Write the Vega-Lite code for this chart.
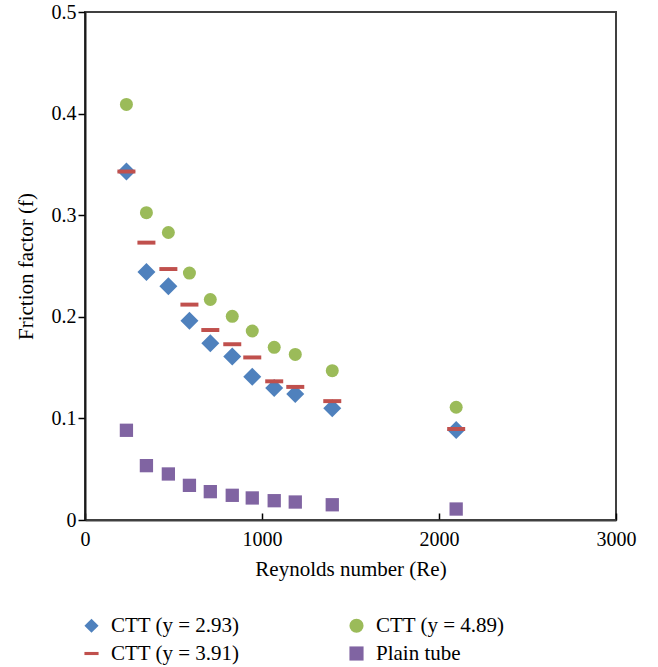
{
  "$schema": "https://vega.github.io/schema/vega-lite/v6.json",
  "width": 531,
  "height": 508,
  "autosize": {"type": "none"},
  "padding": {"left": 85, "top": 12, "right": 42, "bottom": 147},
  "background": "white",
  "config": {
    "font": "Liberation Serif",
    "view": {"stroke": "#404040", "strokeWidth": 2},
    "axis": {
      "grid": false,
      "labelFont": "Liberation Serif",
      "titleFont": "Liberation Serif",
      "labelFontSize": 20,
      "titleFontSize": 21,
      "titleFontWeight": "normal",
      "labelColor": "black",
      "titleColor": "black",
      "domainColor": "#404040",
      "domainWidth": 2,
      "tickColor": "black",
      "tickWidth": 1.5
    },
    "legend": {
      "labelFont": "Liberation Serif",
      "labelFontSize": 21,
      "labelColor": "black",
      "symbolSize": 200,
      "symbolStrokeWidth": 0
    }
  },
  "data": {
    "values": [
      {"series": "CTT (y = 2.93)", "Re": 234, "f": 0.343},
      {"series": "CTT (y = 2.93)", "Re": 347, "f": 0.244},
      {"series": "CTT (y = 2.93)", "Re": 471, "f": 0.230},
      {"series": "CTT (y = 2.93)", "Re": 590, "f": 0.196},
      {"series": "CTT (y = 2.93)", "Re": 708, "f": 0.174},
      {"series": "CTT (y = 2.93)", "Re": 832, "f": 0.161},
      {"series": "CTT (y = 2.93)", "Re": 945, "f": 0.141},
      {"series": "CTT (y = 2.93)", "Re": 1069, "f": 0.130},
      {"series": "CTT (y = 2.93)", "Re": 1188, "f": 0.124},
      {"series": "CTT (y = 2.93)", "Re": 1397, "f": 0.110},
      {"series": "CTT (y = 2.93)", "Re": 2097, "f": 0.0886},
      {"series": "CTT (y = 3.91)", "Re": 234, "f": 0.343},
      {"series": "CTT (y = 3.91)", "Re": 347, "f": 0.273},
      {"series": "CTT (y = 3.91)", "Re": 471, "f": 0.247},
      {"series": "CTT (y = 3.91)", "Re": 590, "f": 0.212},
      {"series": "CTT (y = 3.91)", "Re": 708, "f": 0.187},
      {"series": "CTT (y = 3.91)", "Re": 832, "f": 0.173},
      {"series": "CTT (y = 3.91)", "Re": 945, "f": 0.160},
      {"series": "CTT (y = 3.91)", "Re": 1069, "f": 0.1365},
      {"series": "CTT (y = 3.91)", "Re": 1188, "f": 0.131},
      {"series": "CTT (y = 3.91)", "Re": 1397, "f": 0.117},
      {"series": "CTT (y = 3.91)", "Re": 2097, "f": 0.0896},
      {"series": "CTT (y = 4.89)", "Re": 234, "f": 0.409},
      {"series": "CTT (y = 4.89)", "Re": 347, "f": 0.3025},
      {"series": "CTT (y = 4.89)", "Re": 471, "f": 0.283},
      {"series": "CTT (y = 4.89)", "Re": 590, "f": 0.243},
      {"series": "CTT (y = 4.89)", "Re": 708, "f": 0.217},
      {"series": "CTT (y = 4.89)", "Re": 832, "f": 0.2005},
      {"series": "CTT (y = 4.89)", "Re": 945, "f": 0.186},
      {"series": "CTT (y = 4.89)", "Re": 1069, "f": 0.170},
      {"series": "CTT (y = 4.89)", "Re": 1188, "f": 0.163},
      {"series": "CTT (y = 4.89)", "Re": 1397, "f": 0.147},
      {"series": "CTT (y = 4.89)", "Re": 2097, "f": 0.111},
      {"series": "Plain tube", "Re": 234, "f": 0.0883},
      {"series": "Plain tube", "Re": 347, "f": 0.0535},
      {"series": "Plain tube", "Re": 471, "f": 0.0453},
      {"series": "Plain tube", "Re": 590, "f": 0.0341},
      {"series": "Plain tube", "Re": 708, "f": 0.0279},
      {"series": "Plain tube", "Re": 832, "f": 0.0243},
      {"series": "Plain tube", "Re": 945, "f": 0.0217},
      {"series": "Plain tube", "Re": 1069, "f": 0.019},
      {"series": "Plain tube", "Re": 1188, "f": 0.0177},
      {"series": "Plain tube", "Re": 1397, "f": 0.015},
      {"series": "Plain tube", "Re": 2097, "f": 0.0108}
    ]
  },
  "encoding": {
    "x": {
      "field": "Re", "type": "quantitative",
      "scale": {"domain": [0, 3000], "nice": false, "zero": false},
      "axis": {"values": [0, 1000, 2000, 3000], "format": "d", "title": "Reynolds number (Re)", "tickSize": -7, "labelPadding": 16, "titlePadding": 9, "labelFlush": false}
    },
    "y": {
      "field": "f", "type": "quantitative",
      "scale": {"domain": [0, 0.5], "nice": false},
      "axis": {"values": [0, 0.1, 0.2, 0.3, 0.4, 0.5], "labelExpr": "datum.value == 0 ? '0' : format(datum.value, '.1f')", "title": "Friction factor (f)", "tickSize": 7, "labelPadding": 2, "titlePadding": 15, "labelFlush": false, "domainColor": "#1a1a1a"}
    },
    "color": {
      "field": "series", "type": "nominal",
      "scale": {
        "domain": ["CTT (y = 2.93)", "CTT (y = 3.91)", "CTT (y = 4.89)", "Plain tube"],
        "range": ["#4f81bd", "#c0504d", "#9bbb59", "#8064a2"]
      },
      "legend": {"title": null, "orient": "none", "legendX": -4, "legendY": 603, "columns": 2, "columnPadding": 106, "rowPadding": 6, "labelOffset": 9, "padding": 0,
        "symbolSize": 200,
        "encode": {"symbols": {"update": {"size": {"signal": "datum.value == 'CTT (y = 2.93)' ? 320 : datum.value == 'CTT (y = 3.91)' ? 256 : 200"}}}}}
    },
    "shape": {
      "field": "series", "type": "nominal",
      "scale": {
        "domain": ["CTT (y = 2.93)", "CTT (y = 3.91)", "CTT (y = 4.89)", "Plain tube"],
        "range": ["diamond", "M-1,-0.22L1,-0.22L1,0.22L-1,0.22Z", "circle", "square"]
      },
      "legend": {"title": null, "orient": "none", "legendX": -4, "legendY": 603, "columns": 2, "columnPadding": 106, "rowPadding": 6, "labelOffset": 9, "padding": 0,
        "symbolSize": 200,
        "encode": {"symbols": {"update": {"size": {"signal": "datum.value == 'CTT (y = 2.93)' ? 320 : datum.value == 'CTT (y = 3.91)' ? 256 : 200"}}}}}
    }
  },
  "layer": [
    {"transform": [{"filter": "datum.series == 'CTT (y = 2.93)'"}], "mark": {"type": "point", "filled": true, "opacity": 1, "size": 324}},
    {"transform": [{"filter": "datum.series == 'CTT (y = 3.91)'"}], "mark": {"type": "point", "filled": true, "opacity": 1, "size": 324}},
    {"transform": [{"filter": "datum.series == 'CTT (y = 4.89)'"}], "mark": {"type": "point", "filled": true, "opacity": 1, "size": 169}},
    {"transform": [{"filter": "datum.series == 'Plain tube'"}], "mark": {"type": "point", "filled": true, "opacity": 1, "size": 177}}
  ]
}
